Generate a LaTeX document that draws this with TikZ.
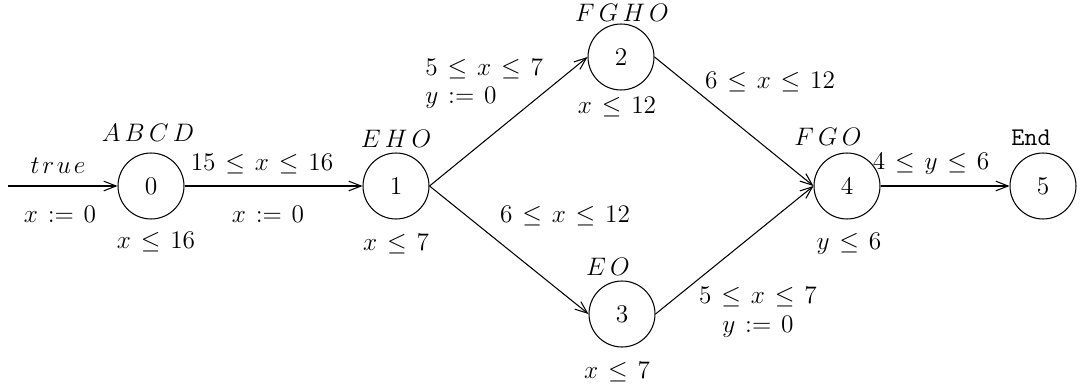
\documentclass[tikz,border=0pt]{standalone}
\usetikzlibrary{arrows.meta}
\newcommand{\myle}{\mskip2mu\le\mskip2mu}
\newcommand{\myset}{\mskip2mu\mathrel{:=}\mskip2mu}
\begin{document}
\begin{tikzpicture}[x=0.02cm,y=-0.02cm,
  state/.style={circle,draw,line width=0.6pt,minimum size=1.32cm,inner sep=0pt,font=\fontsize{14.5}{17}\selectfont},
  lbl/.style={inner sep=0pt,font=\fontsize{14.5}{17}\selectfont},
  edge/.style={line width=0.6pt,-{Straight Barb[length=7pt,width=5.5pt,line width=0.6pt]}}]
\path[use as bounding box] (0,0) rectangle (1085,392);
% states
\node[state] (n0) at (151,186) {0};
\node[state] (n1) at (396,186) {1};
\node[state] (n2) at (621,57) {2};
\node[state] (n3) at (622,314) {3};
\node[state] (n4) at (847,186) {4};
\node[state] (n5) at (1043,186) {5};
\coordinate (init) at (8,186);
% edges
\draw[edge] (init) -- (n0.west);
\draw[edge] (n0.east) -- (n1.west);
\draw[edge] (n1.east) -- (n2.west);
\draw[edge] (n1.east) -- (n3.west);
\draw[edge] (n2.east) -- (n4.west);
\draw[edge] (n3.east) -- (n4.west);
\draw[edge] (n4.east) -- (n5.west);
% state names
\node[lbl] (l0) at (148,133) {$A\,B\,C\,D$};
\node[lbl] (l1) at (396,139) {$E\,H\,O$};
\node[lbl] (l2) at (622,13) {$F\,G\,H\,O$};
\node[lbl] (l3) at (608,267) {$E\,O$};
\node[lbl] (l4) at (828,137) {$F\,G\,O$};
\node[lbl] (l5) at (1031,138) {\texttt{End}};
% invariants
\node[lbl] (i0) at (156,242) {$x \myle 16$};
\node[lbl] (i1) at (396,244) {$x \myle 7$};
\node[lbl] (i2) at (617,107) {$x \myle 12$};
\node[lbl] (i3) at (617,372) {$x \myle 7$};
\node[lbl] (i4) at (849,244) {$y \myle 6$};
% edge labels
\node[lbl] (g0) at (58,166) {$t\mskip2mu r\mskip2mu u\mskip2mu e$};
\node[lbl] (r0) at (60,214) {$x \myset 0$};
\node[lbl] (g1) at (262,164) {$15 \myle x \myle 16$};
\node[lbl] (r1) at (268,214) {$x \myset 0$};
\node[lbl,anchor=west] (g2) at (425,69) {$5 \myle x \myle 7$};
\node[lbl,anchor=west] (r2) at (425,98) {$y \myset 0$};
\node[lbl] (g3) at (565,216) {$6 \myle x \myle 12$};
\node[lbl] (g4) at (770,82) {$6 \myle x \myle 12$};
\node[lbl] (g5) at (758,297) {$5 \myle x \myle 7$};
\node[lbl] (r5) at (758,327) {$y \myset 0$};
\node[lbl] (g6) at (931,164) {$4 \myle y \myle 6$};
\end{tikzpicture}
\end{document}
